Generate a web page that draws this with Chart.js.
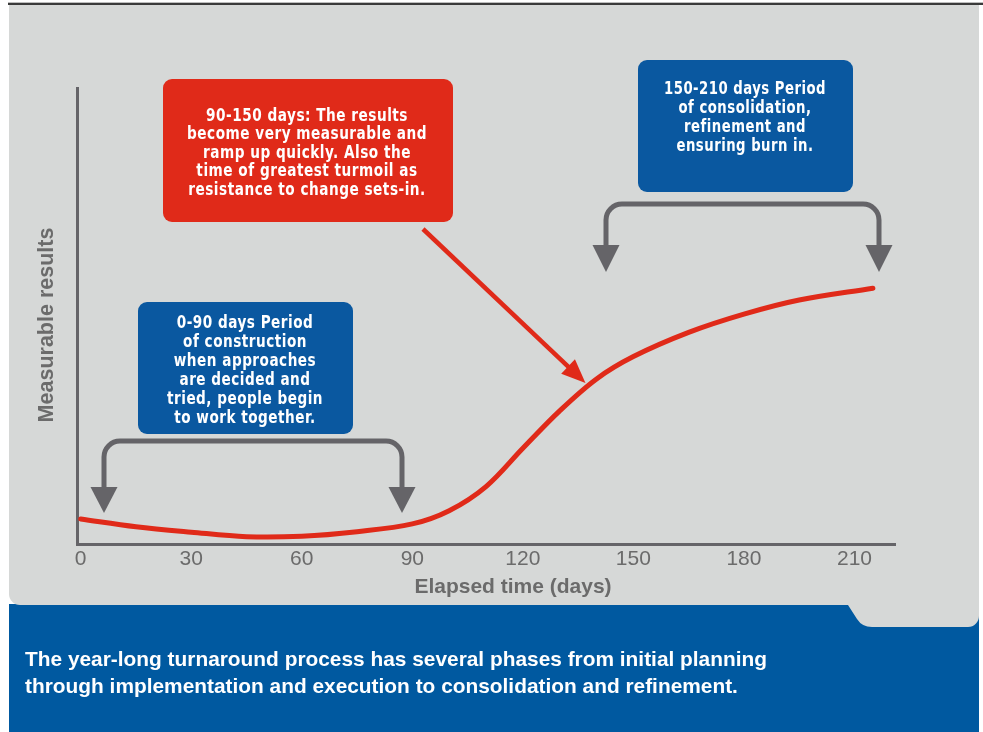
<!DOCTYPE html>
<html>
<head>
<meta charset="utf-8">
<title>Turnaround process</title>
<script src="https://cdn.jsdelivr.net/npm/chart.js@4/dist/chart.umd.min.js"></script>
<style>
  html, body { margin: 0; padding: 0; background: #ffffff; }
  canvas { display: block; }
</style>
</head>
<body>
<canvas id="chart" width="983" height="732"></canvas>
<script>
// Elapsed days and the measurable-results curve
const dayValues    = [0, 15, 30, 45, 60, 75, 90, 100, 110, 120, 130, 140, 150, 165, 180, 195, 215];
const resultValues = [5.5, 3.8, 2.6, 1.6, 1.7, 2.7, 4.4, 7.3, 12.6, 21.0, 29.2, 36.2, 41.1, 46.4, 50.4, 53.5, 56.1];
const tickDays     = [0, 30, 60, 90, 120, 150, 180, 210];

// Axis titles
const xTitle = 'Elapsed time (days)';
const yTitle = 'Measurable results';

// Phase call-outs
const phaseEarly  = ['0-90 days Period', 'of construction', 'when approaches', 'are decided and', 'tried, people begin', 'to work together.'];
const phaseRamp   = ['90-150 days: The results', 'become very measurable and', 'ramp up quickly. Also the', 'time of greatest turmoil as', 'resistance to change sets-in.'];
const phaseLate   = ['150-210 days Period', 'of consolidation,', 'refinement and', 'ensuring burn in.'];
const captionLines = [
  'The year-long turnaround process has several phases from initial planning',
  'through implementation and execution to consolidation and refinement.'
];

const RED = '#e02a19';
const BLUE = '#0a58a0';
const FOOTER_BLUE = '#0059a0';
const PANEL = '#d6d8d7';
const AXIS = '#656468';
const LABEL = '#6b6b6b';
const SANS = '"Liberation Sans", Arial, sans-serif';
const NARROW = '"Liberation Sans Narrow", "Arial Narrow", "DejaVu Sans Condensed", "Roboto Condensed", "Liberation Sans", sans-serif';

function fittedLines(ctx, lines, cx, firstY, step, targetWidth) {
  let widest = 0;
  lines.forEach(l => { widest = Math.max(widest, ctx.measureText(l).width); });
  const sx = widest > 0 ? targetWidth / widest : 1;
  lines.forEach((l, i) => {
    ctx.save();
    ctx.translate(cx, firstY + i * step);
    ctx.scale(sx, 1);
    ctx.fillText(l, 0, 0);
    ctx.restore();
  });
}

// Page backdrop: grey panel with tab, blue caption band
const backdrop = {
  id: 'backdrop',
  beforeDraw(chart) {
    const ctx = chart.ctx;
    ctx.save();
    ctx.fillStyle = '#ffffff';
    ctx.fillRect(0, 0, chart.width, chart.height);

    ctx.fillStyle = FOOTER_BLUE;
    ctx.fillRect(9, 604, 970, 128);

    ctx.fillStyle = PANEL;
    ctx.beginPath();
    ctx.moveTo(9, 5);
    ctx.lineTo(979, 5);
    ctx.lineTo(979, 616);
    ctx.arcTo(979, 627, 968, 627, 11);
    ctx.lineTo(872, 627);
    ctx.quadraticCurveTo(862, 627, 857, 619);
    ctx.lineTo(848, 605);
    ctx.lineTo(20, 605);
    ctx.arcTo(9, 605, 9, 594, 11);
    ctx.closePath();
    ctx.fill();

    ctx.fillStyle = '#bdbdbd';
    ctx.fillRect(8, 2, 975, 1);
    ctx.fillStyle = '#3a3a3a';
    ctx.fillRect(8, 3, 975, 2);

    ctx.fillStyle = '#ffffff';
    ctx.font = 'bold 21px ' + SANS;
    ctx.textAlign = 'left';
    ctx.textBaseline = 'alphabetic';
    const w0 = ctx.measureText(captionLines[0]).width;
    const sx = 742 / w0;
    captionLines.forEach((l, i) => {
      ctx.save();
      ctx.translate(25, 666 + i * 27);
      ctx.scale(sx, 1);
      ctx.fillText(l, 0, 0);
      ctx.restore();
    });
    ctx.restore();
  }
};

// Axis titles, placed under the labelled span and beside the plot
const axisTitles = {
  id: 'axisTitles',
  afterDraw(chart) {
    const ctx = chart.ctx;
    ctx.save();
    ctx.fillStyle = LABEL;
    ctx.font = 'bold 21px ' + SANS;
    ctx.textAlign = 'center';
    ctx.textBaseline = 'middle';
    ctx.fillText(xTitle, 513, 587);
    ctx.translate(47, 325);
    ctx.rotate(-Math.PI / 2);
    ctx.font = 'bold 21.5px ' + SANS;
    ctx.fillText(yTitle, 0, 0);
    ctx.restore();
  }
};

// Phase boxes, brackets and the pointer arrow
const callouts = {
  id: 'callouts',
  afterDatasetsDraw(chart) {
    const ctx = chart.ctx;
    const xs = chart.scales.x, ys = chart.scales.y;
    ctx.save();

    function box(x, y, w, h, color) {
      ctx.fillStyle = color;
      ctx.beginPath();
      ctx.roundRect(x, y, w, h, 9);
      ctx.fill();
    }
    function bracket(x1, x2, top, stemEnd, tip) {
      const r = 16;
      ctx.strokeStyle = AXIS;
      ctx.lineWidth = 5;
      ctx.lineJoin = 'round';
      ctx.beginPath();
      ctx.moveTo(x1, stemEnd + 2);
      ctx.lineTo(x1, top + r);
      ctx.arcTo(x1, top, x1 + r, top, r);
      ctx.lineTo(x2 - r, top);
      ctx.arcTo(x2, top, x2, top + r, r);
      ctx.lineTo(x2, stemEnd + 2);
      ctx.stroke();
      ctx.fillStyle = AXIS;
      [x1, x2].forEach(x => {
        ctx.beginPath();
        ctx.moveTo(x - 13.5, stemEnd);
        ctx.lineTo(x + 13.5, stemEnd);
        ctx.lineTo(x, tip);
        ctx.closePath();
        ctx.fill();
      });
    }

    // boxes
    box(163, 79, 290, 143, RED);
    box(638, 60, 215, 132, BLUE);
    box(138, 302, 215, 132, BLUE);

    ctx.fillStyle = '#ffffff';
    ctx.font = 'bold 18px ' + NARROW;
    ctx.letterSpacing = '0.6px';
    ctx.textAlign = 'center';
    ctx.textBaseline = 'middle';
    fittedLines(ctx, phaseRamp, 307, 116, 18.6, 240);
    fittedLines(ctx, phaseLate, 745, 89, 19, 162);
    fittedLines(ctx, phaseEarly, 245, 323, 19, 156);
    ctx.letterSpacing = '0px';

    // brackets
    bracket(104, 402, 441, 487, 513);
    bracket(606, 879, 204, 245, 272);

    // pointer from the ramp-up box to the curve's inflection
    const tipX = xs.getPixelForValue(137);
    const tipY = ys.getPixelForValue(35.3);
    const sX = 423, sY = 229;
    const ang = Math.atan2(tipY - sY, tipX - sX);
    const headLen = 24, headHalf = 10;
    const bx = tipX - headLen * Math.cos(ang), by = tipY - headLen * Math.sin(ang);
    ctx.strokeStyle = RED;
    ctx.lineWidth = 4.5;
    ctx.beginPath();
    ctx.moveTo(sX, sY);
    ctx.lineTo(bx + 2 * Math.cos(ang), by + 2 * Math.sin(ang));
    ctx.stroke();
    ctx.fillStyle = RED;
    ctx.beginPath();
    ctx.moveTo(tipX, tipY);
    ctx.lineTo(bx + headHalf * Math.sin(ang), by - headHalf * Math.cos(ang));
    ctx.lineTo(bx - headHalf * Math.sin(ang), by + headHalf * Math.cos(ang));
    ctx.closePath();
    ctx.fill();

    ctx.restore();
  }
};

new Chart(document.getElementById('chart'), {
  type: 'line',
  data: {
    datasets: [{
      data: dayValues.map((d, i) => ({ x: d, y: resultValues[i] })),
      borderColor: RED,
      borderWidth: 5,
      borderCapStyle: 'round',
      pointRadius: 0,
      fill: false,
      tension: 0.35
    }]
  },
  options: {
    responsive: false,
    animation: false,
    events: [],
    layout: { padding: { left: 0, top: 88, right: 88, bottom: 134 } },
    plugins: { legend: { display: false }, tooltip: { enabled: false } },
    scales: {
      x: {
        type: 'linear',
        min: -1,
        max: 221,
        afterBuildTicks: s => { s.ticks = tickDays.map(v => ({ value: v })); },
        afterFit: s => { s.height = 54; },
        grid: { display: false, drawTicks: false },
        border: { display: true, color: AXIS, width: 3 },
        ticks: {
          color: LABEL,
          padding: 3,
          autoSkip: false,
          maxRotation: 0,
          font: { family: SANS, size: 21 },
          callback: v => String(v)
        },
        title: { display: false, text: xTitle }
      },
      y: {
        min: 0,
        max: 100,
        afterFit: s => { s.width = 77; },
        grid: { display: false, drawTicks: false },
        border: { display: true, color: AXIS, width: 3 },
        ticks: { display: false },
        title: { display: false, text: yTitle }
      }
    }
  },
  plugins: [backdrop, callouts, axisTitles]
});
</script>
</body>
</html>
